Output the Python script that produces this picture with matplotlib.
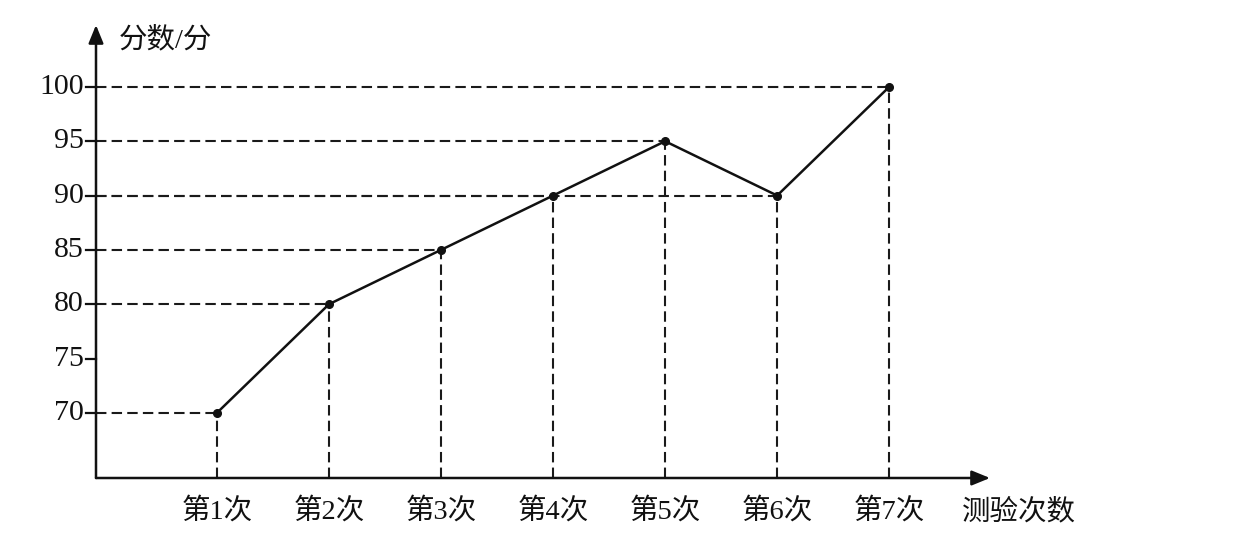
import numpy as np
import matplotlib
matplotlib.use("Agg")
import matplotlib.pyplot as plt

plt.rcParams['font.family'] = ['Liberation Serif', 'Noto Sans CJK SC']

tests = [1, 2, 3, 4, 5, 6, 7]
scores = [70, 80, 85, 90, 95, 90, 100]
tick_labels = ["第1次", "第2次", "第3次", "第4次", "第5次", "第6次", "第7次"]
y_ticks = [70, 75, 80, 85, 90, 95, 100]

W, H = 1253, 546
fig = plt.figure(figsize=(W / 100, H / 100), dpi=100)
ax = fig.add_axes([96 / W, (H - 478) / H, (990 - 96) / W, (478 - 25) / H])
x0, x1 = -0.08, 7.9
y0, y1 = 64.0, 105.7
ax.set_xlim(x0, x1)
ax.set_ylim(y0, y1)
ax.axis("off")

# guide lines
for x, y in zip(tests, scores):
    ax.plot([x0, x], [y, y], ls=(0, (5, 2.5)), color="#1a1a1a", lw=1.5, zorder=1)
    ax.plot([x, x], [y0, y], ls=(0, (5, 2.5)), color="#1a1a1a", lw=1.5, zorder=1)

ax.plot(tests, scores, color="#111", lw=1.8, marker="o", ms=5.5, zorder=3)

# axes with arrows
for end in [(1, 0), (0, 1)]:
    ax.annotate("", xy=end, xytext=(0, 0), xycoords="axes fraction",
                arrowprops=dict(arrowstyle="-|>,head_length=1.1,head_width=0.45",
                                color="#111", lw=1.8, shrinkA=0, shrinkB=0))

# y ticks
for v in y_ticks:
    ax.plot([x0 - 0.09, x0], [v, v], color="#111", lw=1.6, clip_on=False)
    ax.text(x0 - 0.11, v, str(v), ha="right", va="center", fontsize=21.5,
            color="#111")

for x, lab in zip(tests, tick_labels):
    ax.text(x, 60.9, lab, ha="center", va="center", fontsize=20.5, color="#111")

ax.text(7.65, 60.9, "测验次数", ha="left", va="center", fontsize=20.5, color="#111")
ax.text(0.12, 104.3, "分数/分", ha="left", va="center", fontsize=20.5, color="#111")

fig.savefig("out.png", dpi=100, facecolor="white")
